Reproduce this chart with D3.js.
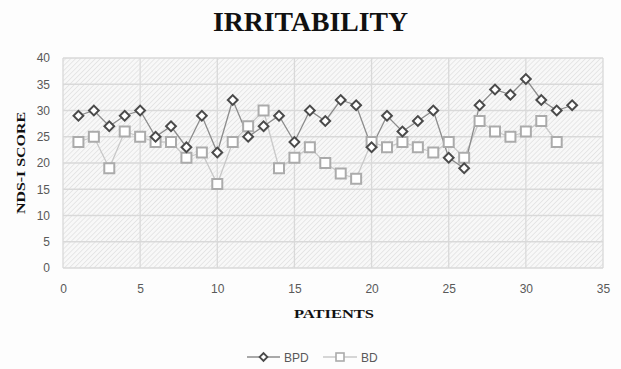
<!DOCTYPE html>
<html><head><meta charset="utf-8">
<script src="https://cdn.jsdelivr.net/npm/d3@7"></script>
<style>body{margin:0;background:#fdfdfd;}svg{display:block;}</style>
</head><body>
<script>
const patients = d3.range(1, 34);
const bpd = [29,30,27,29,30,25,27,23,29,22,32,25,27,29,24,30,28,32,31,23,29,26,28,30,21,19,31,34,33,36,32,30,31];
const bd  = [24,25,19,26,25,24,24,21,22,16,24,27,30,19,21,23,20,18,17,24,23,24,23,22,24,21,28,26,25,26,28,24];
const xTicks = [0,5,10,15,20,25,30,35];
const yTicks = [0,5,10,15,20,25,30,35,40];

const W = 621, H = 369;
const svg = d3.select("body").append("svg").attr("width", W).attr("height", H);
svg.append("rect").attr("width", W).attr("height", H).attr("fill", "#fdfdfd");

const defs = svg.append("defs");
const pat = defs.append("pattern").attr("id","hatch").attr("patternUnits","userSpaceOnUse")
  .attr("width",3.5).attr("height",3.5).attr("patternTransform","rotate(45)");
pat.append("rect").attr("width",3.5).attr("height",3.5).attr("fill","#f8f8f8");
pat.append("line").attr("x1",0).attr("y1",0).attr("x2",0).attr("y2",3.5).attr("stroke","#e0e0e0").attr("stroke-width",1.4);

const m = {l:63, r:603, t:58, b:268};
const x = d3.scaleLinear().domain([0,35]).range([m.l, m.r]);
const y = d3.scaleLinear().domain([0,40]).range([m.b, m.t]);

svg.append("rect").attr("x",m.l).attr("y",m.t).attr("width",m.r-m.l).attr("height",m.b-m.t)
  .attr("fill","url(#hatch)");

// gridlines
svg.append("g").selectAll("line").data(yTicks).join("line")
  .attr("x1",m.l).attr("x2",m.r).attr("y1",d=>y(d)).attr("y2",d=>y(d))
  .attr("stroke","#d9d9d9").attr("stroke-width",1.3);
svg.append("g").selectAll("line").data(xTicks).join("line")
  .attr("y1",m.t).attr("y2",m.b).attr("x1",d=>x(d)).attr("x2",d=>x(d))
  .attr("stroke","#d9d9d9").attr("stroke-width",1.3);

// axes labels
const yAxis = svg.append("g").attr("transform",`translate(${m.l},0)`)
  .call(d3.axisLeft(y).tickValues(yTicks).tickSize(0).tickPadding(13));
yAxis.select(".domain").remove();
yAxis.selectAll("text").attr("fill","#595959").style("font-family","Liberation Sans, Arial, sans-serif").style("font-size","12px");

const xAxis = svg.append("g").attr("transform",`translate(0,${m.b})`)
  .call(d3.axisBottom(x).tickValues(xTicks).tickSize(0).tickPadding(16));
xAxis.select(".domain").remove();
xAxis.selectAll("text").attr("fill","#595959").style("font-family","Liberation Sans, Arial, sans-serif").style("font-size","12px");

// lines
const lineGen = d3.line().x((d,i)=>x(patients[i])).y(d=>y(d));
svg.append("path").datum(bd).attr("d",lineGen).attr("fill","none").attr("stroke","#c8c8c8").attr("stroke-width",1.3);
svg.append("path").datum(bpd).attr("d",lineGen).attr("fill","none").attr("stroke","#8c8c8c").attr("stroke-width",1.3);

svg.append("g").selectAll("rect").data(bd).join("rect")
  .attr("x",(d,i)=>x(patients[i])-5).attr("y",d=>y(d)-5).attr("width",10).attr("height",10)
  .attr("fill","#ffffff").attr("stroke","#ababab").attr("stroke-width",2);

const diamond = d3.symbol().type(d3.symbolSquare).size(48);
svg.append("g").selectAll("path").data(bpd).join("path")
  .attr("d",diamond())
  .attr("transform",(d,i)=>`translate(${x(patients[i])},${y(d)}) rotate(45)`)
  .attr("fill","#ffffff").attr("stroke","#4a4a4a").attr("stroke-width",2);

// title
svg.append("text").attr("x",310.5).attr("y",31).attr("text-anchor","middle")
  .attr("textLength",195).attr("lengthAdjust","spacingAndGlyphs")
  .style("font-family","Liberation Serif, Times New Roman, serif").style("font-weight","bold").style("font-size","27px")
  .attr("fill","#111").text("IRRITABILITY");
svg.append("text").attr("transform",`translate(25,${(m.t+m.b)/2}) rotate(-90)`).attr("text-anchor","middle")
  .attr("textLength",102).attr("lengthAdjust","spacingAndGlyphs")
  .style("font-family","Liberation Serif, Times New Roman, serif").style("font-weight","bold").style("font-size","13px")
  .attr("fill","#111").text("NDS-I SCORE");
svg.append("text").attr("x",334).attr("y",318).attr("text-anchor","middle")
  .attr("textLength",80).attr("lengthAdjust","spacingAndGlyphs")
  .style("font-family","Liberation Serif, Times New Roman, serif").style("font-weight","bold").style("font-size","13px")
  .attr("fill","#111").text("PATIENTS");

// legend
const lg = svg.append("g");
const ly = 357;
lg.append("line").attr("x1",247).attr("x2",280).attr("y1",ly).attr("y2",ly).attr("stroke","#8c8c8c").attr("stroke-width",1.3);
lg.append("path").attr("d",d3.symbol().type(d3.symbolSquare).size(30)()).attr("transform",`translate(263.5,${ly}) rotate(45)`)
  .attr("fill","#fff").attr("stroke","#4a4a4a").attr("stroke-width",1.8);
lg.append("text").attr("x",284).attr("y",ly+5).text("BPD").attr("fill","#595959")
  .style("font-family","Liberation Sans, Arial, sans-serif").style("font-size","12px");
lg.append("line").attr("x1",323).attr("x2",357).attr("y1",ly).attr("y2",ly).attr("stroke","#c8c8c8").attr("stroke-width",1.3);
lg.append("rect").attr("x",336).attr("y",ly-4).attr("width",8).attr("height",8).attr("fill","#fff").attr("stroke","#ababab").attr("stroke-width",1.6);
lg.append("text").attr("x",361).attr("y",ly+5).text("BD").attr("fill","#595959")
  .style("font-family","Liberation Sans, Arial, sans-serif").style("font-size","12px");
</script>
</body></html>
